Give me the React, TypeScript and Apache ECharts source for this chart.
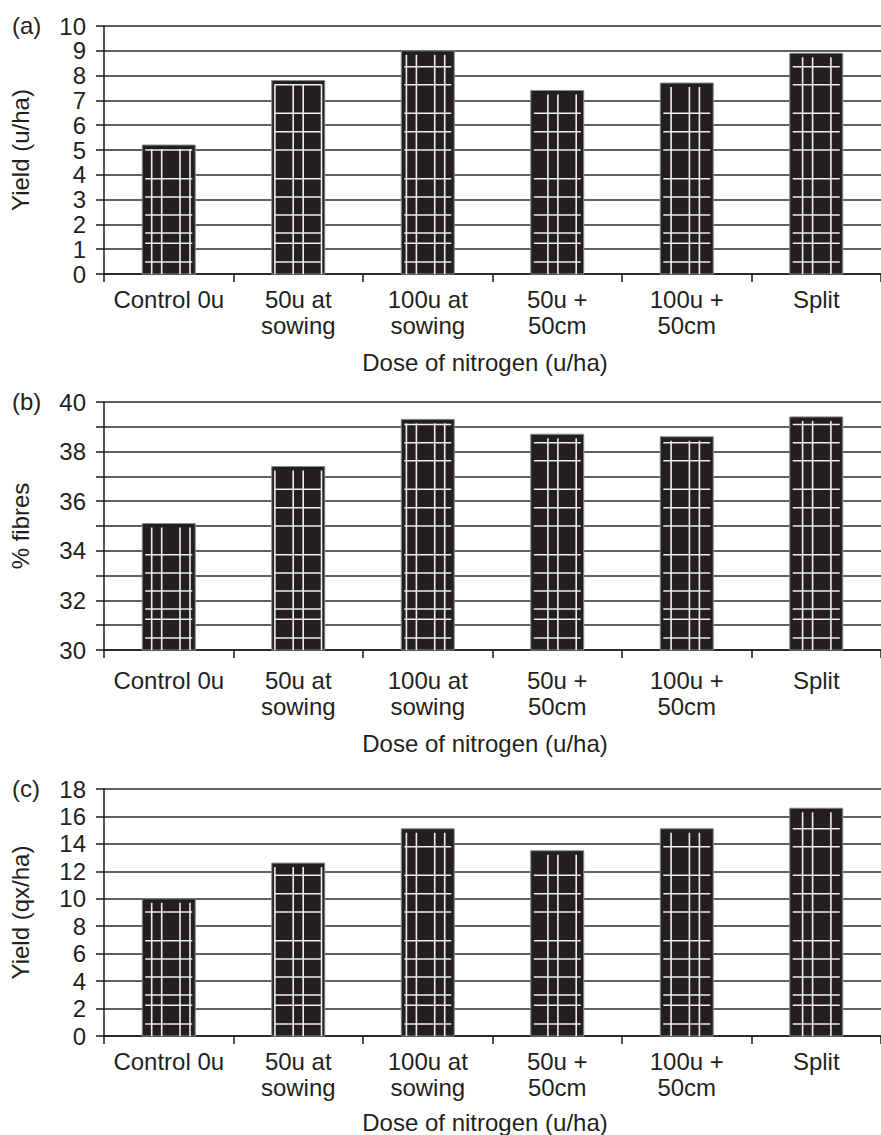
import React, { useEffect, useRef } from "react";
import * as echarts from "echarts";

const categories = [
  "Control 0u",
  "50u at\nsowing",
  "100u at\nsowing",
  "50u +\n50cm",
  "100u +\n50cm",
  "Split",
];
const yieldA = [5.2, 7.8, 9.0, 7.4, 7.7, 8.9];
const fibresB = [35.1, 37.4, 39.3, 38.7, 38.6, 39.4];
const yieldC = [10.0, 12.6, 15.1, 13.5, 15.1, 16.6];

const axisA = { min: 0, max: 10, interval: 1 };
const axisB = { min: 30, max: 40, interval: 1 };
const axisC = { min: 0, max: 18, interval: 2 };

const FONT = "'Liberation Sans', Arial, Helvetica, sans-serif";
const TEXT = "#231f20";
const H_OFFSETS = [12, 30.7, 41, 59, 77, 95.3, 124, 142.3, 160.7, 189.3, 207.3, 225.5, 243];

function makeRender(yMin: number) {
  return (params: any, api: any) => {
    const i = api.value(0);
    const v = api.value(1);
    const top = api.coord([i, v]);
    const bot = api.coord([i, yMin]);
    const bw = api.size([1, 0])[0];
    const w = Math.round(bw * 0.41);
    const x0 = top[0] - w / 2;
    const y0 = top[1];
    const y1 = bot[1];
    const children: any[] = [
      {
        type: "rect",
        shape: { x: x0, y: y0, width: w, height: y1 - y0 },
        style: { fill: "#231f20", stroke: "#8a8a8a", lineWidth: 1 },
      },
    ];
    for (let k = -10; k < 40; k++) {
      for (const off of [0, 10]) {
        const x = 151.7 + 28.3 * k + off;
        if (x > x0 + 2 && x < x0 + w - 2) {
          children.push({
            type: "line",
            shape: { x1: x, y1: y0 + 4, x2: x, y2: y1 },
            style: { stroke: "#eeeeee", lineWidth: 1.6 },
          });
        }
      }
    }
    for (const h of H_OFFSETS) {
      const y = y1 - h;
      if (y > y0 + 4) {
        children.push({
          type: "line",
          shape: { x1: x0 + 3, y1: y, x2: x0 + w - 3, y2: y },
          style: { stroke: "#eeeeee", lineWidth: 1.6 },
        });
      }
    }
    return { type: "group", children };
  };
}

const tops = [26, 402, 789];
const yNames = ["Yield (u/ha)", "% fibres", "Yield (qx/ha)"];
const panelLabels = ["(a)", "(b)", "(c)"];
const axes = [axisA, axisB, axisC];
const series = [yieldA, fibresB, yieldC];
const xNameGaps = [76, 81, 74];
const xLabelMargins = [12, 17, 12];

export default function App() {
  const ref = useRef<HTMLDivElement>(null);
  useEffect(() => {
    if (!ref.current) return;
    const chart = echarts.init(ref.current, null, { renderer: "svg" });
    const grid = tops.map((t) => ({ left: 100, top: t, width: 801, height: 248 }));
    const xAxis = tops.map((_, gi) => ({
      type: "category",
      gridIndex: gi,
      data: categories,
      boundaryGap: true,
      name: "Dose of nitrogen (u/ha)",
      nameLocation: "middle",
      nameGap: xNameGaps[gi],
      nameTextStyle: { fontSize: 24, fontFamily: FONT, color: TEXT, padding: [0, 15, 0, 0] },
      axisLine: { show: true, lineStyle: { color: "#1a1a1a", width: 1.5 } },
      axisTick: { show: true, length: 8, lineStyle: { color: "#1a1a1a", width: 1.5 } },
      axisLabel: {
        interval: 0,
        margin: xLabelMargins[gi],
        fontSize: 24,
        lineHeight: 26,
        fontFamily: FONT,
        color: TEXT,
      },
      splitLine: { show: false },
    }));
    const yAxis = tops.map((_, gi) => ({
      type: "value",
      gridIndex: gi,
      min: axes[gi].min,
      max: axes[gi].max,
      interval: axes[gi].interval,
      name: yNames[gi],
      nameLocation: "middle",
      nameGap: 72,
      nameRotate: 90,
      nameTextStyle: { fontSize: 24, fontFamily: FONT, color: TEXT },
      axisLine: { show: true, lineStyle: { color: "#1a1a1a", width: 1.5 } },
      axisTick: { show: true, length: 8, lineStyle: { color: "#1a1a1a", width: 1.5 } },
      axisLabel: {
        margin: 18,
        fontSize: 24,
        fontFamily: FONT,
        color: TEXT,
        formatter: (val: number) => (gi === 1 && val % 2 !== 0 ? "" : String(val)),
      },
      splitLine: { show: true, lineStyle: { color: "#2a2a2a", width: 1.5 } },
    }));
    const seriesOpts = series.map((vals, gi) => ({
      type: "custom",
      xAxisIndex: gi,
      yAxisIndex: gi,
      renderItem: makeRender(axes[gi].min),
      encode: { x: 0, y: 1 },
      data: vals.map((v, i) => [i, v]),
      clip: false,
    }));
    chart.setOption({
      animation: false,
      backgroundColor: "#ffffff",
      grid,
      xAxis,
      yAxis,
      series: seriesOpts,
      graphic: tops.map((t, gi) => ({
        type: "text",
        left: 12,
        top: t - 13,
        style: {
          text: panelLabels[gi],
          fontSize: 24,
          fontFamily: FONT,
          fill: TEXT,
        },
      })),
    });
    return () => chart.dispose();
  }, []);
  return (
    <div
      ref={ref}
      style={{ position: "absolute", left: 0, top: 0, width: 881, height: 1135 }}
    />
  );
}
